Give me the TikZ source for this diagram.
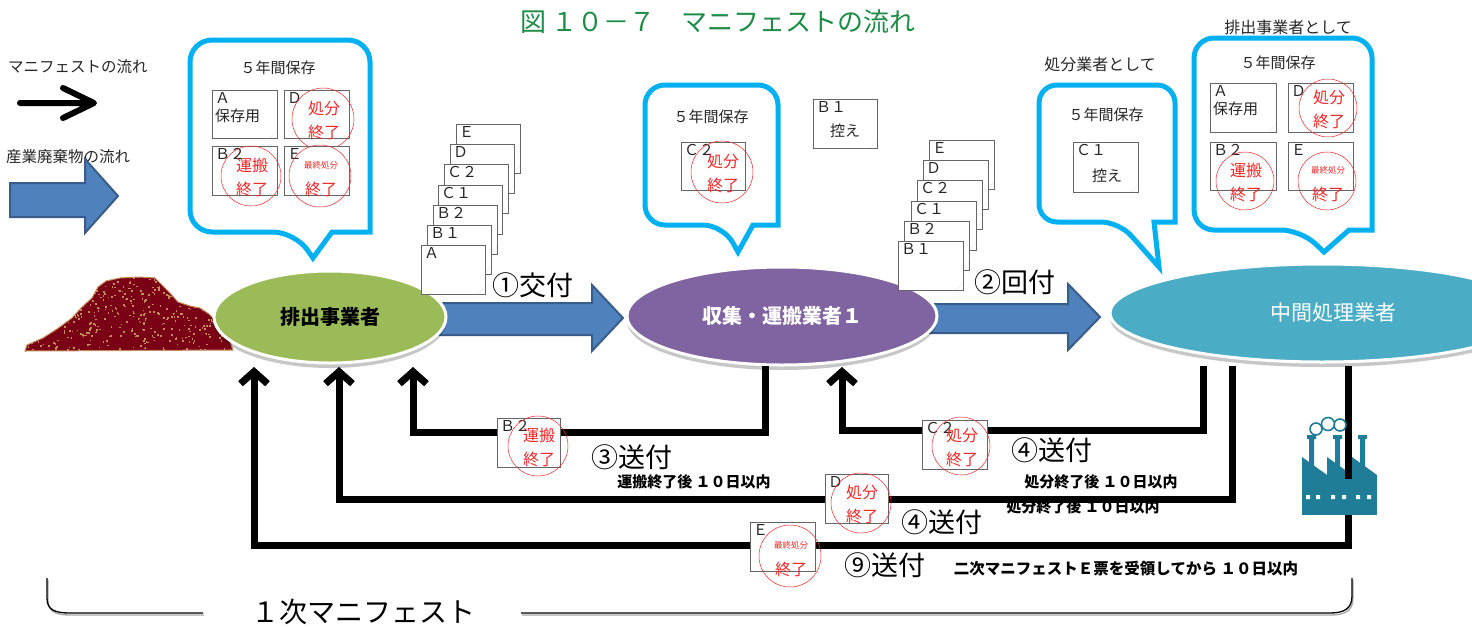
\documentclass[tikz,border=0pt]{standalone}
\usepackage{fontspec}
\setmainfont{Noto Sans CJK JP}
\usetikzlibrary{arrows.meta,shapes.geometric,shadows}

\definecolor{ttlgreen}{RGB}{30,140,70}
\definecolor{callblue}{RGB}{0,176,240}
\definecolor{blockblue}{RGB}{79,129,189}
\definecolor{blockedge}{RGB}{56,93,138}
\definecolor{emitgreen}{RGB}{155,187,89}
\definecolor{collpurple}{RGB}{128,100,162}
\definecolor{midteal}{RGB}{75,172,198}
\definecolor{factoryc}{RGB}{31,125,152}
\definecolor{heapred}{RGB}{122,0,22}
\definecolor{speck}{RGB}{196,140,90}
\definecolor{stampred}{RGB}{240,40,40}

\newcommand\fs[1]{\fontsize{#1}{#1}\selectfont}
% sticky note: [options]{name}{x}{y}{label}, (x,y) = top-left corner
\newcommand\memonote[5][]{%
  \node[memo,#1] (#2) at (#3,#4) {};
  \node[memolbl] (#2-l) at ([shift={(2pt,-1pt)}]#2.north west) {#5};}
% red completion stamp: {name}{cx}{cy}{radius}{upper text}
\newcommand\stampmark[5]{%
  \draw[stamp] (#2,#3) circle (#4pt);
  \node[stamptxt] (#1-a) at (#2+1,#3-11) {#5};
  \node[stamptxt] (#1-b) at (#2+1,#3+13) {終了};}

\begin{document}
\begin{tikzpicture}[x=1pt,y=-1pt,
  callout/.style={draw=callblue,line width=5pt,fill=white},
  memo/.style={draw=black!60,fill=white,line width=0.6pt,inner sep=0pt,
    anchor=north west,minimum width=65pt,minimum height=49pt,
    path picture={\fill[black!30]
      ([xshift=-8pt]path picture bounding box.south east) --
      ([yshift=8pt]path picture bounding box.south east) --
      ([shift={(-6pt,2pt)}]path picture bounding box.south east) -- cycle;}},
  memolbl/.style={anchor=north west,inner sep=1pt,font=\fs{15},align=left,text=black!85},
  plain/.style={inner sep=0pt,font=\fs{15},text=black!85},
  stamp/.style={draw=stampred,line width=0.5pt},
  stamptxt/.style={text=stampred,font=\fs{16},inner sep=0pt},
  ret/.style={line width=7pt,draw=black,-{Straight Barb[length=12pt,width=27pt]}},
  bigarrow/.style={fill=blockblue,draw=blockedge,line width=2pt},
  ell/.style={ellipse,draw=white,line width=3pt,inner sep=0pt,
    drop shadow={shadow xshift=0pt,shadow yshift=-5pt,opacity=0.22,fill=black}},
  big/.style={font=\fs{27},inner sep=0pt},
  small/.style={font=\fs{15}\bfseries,inner sep=0pt}]

\useasboundingbox (0,0) rectangle (1472,627);
\fill[white] (0,0) rectangle (1472,627);

% title
\node[font=\fs{26},text=ttlgreen,inner sep=0pt] (title) at (718,22) {図 １０－７　マニフェストの流れ};

% legend
\node[plain,anchor=west,font=\fs{15.5}] (lg1) at (8,67) {マニフェストの流れ};
\draw[line width=6pt,line cap=round,line join=round] (20,103) -- (93,103) (63,88) -- (94,103) -- (63,118);
\node[plain,anchor=west,font=\fs{15.5}] (lg2) at (6,157) {産業廃棄物の流れ};
\draw[bigarrow] (10,183) -- (85,183) -- (85,159) -- (118,196) -- (85,233) -- (85,217) -- (10,217) -- cycle;

% waste heap
\def\heapshape{(25,351) -- (27,345) -- (43,338) -- (57,329) -- (72,318) -- (82,307) -- (92,298)
  -- (98,287) -- (106,281) -- (120,278) -- (140,277) -- (155,278) -- (162,285) -- (170,293)
  -- (178,302) -- (190,306) -- (200,308) -- (209,314) -- (218,323) -- (227,333) -- (233,350) -- cycle}
\fill[heapred] \heapshape;
\begin{scope}
  \clip \heapshape;
  \pgfmathsetseed{11}
  \foreach \k in {1,...,520}{
    \pgfmathsetmacro\hx{25+210*rnd}
    \pgfmathsetmacro\hy{275+78*rnd}
    \fill[speck] (\hx,\hy) rectangle ++(1.6,1.6);}
\end{scope}
\draw[speck,line width=1pt] \heapshape;

% block arrows for the waste itself
\draw[bigarrow] (440,303) -- (592,303) -- (592,285) -- (623,318) -- (592,351) -- (592,335) -- (440,335) -- cycle;
\draw[bigarrow] (925,304) -- (1068,304) -- (1068,284) -- (1100,317) -- (1068,350) -- (1068,333) -- (925,333) -- cycle;

% parties
\node[ell,fill=emitgreen,minimum width=232pt,minimum height=92pt,font=\fs{20}\bfseries] (gen) at (330,317) {排出事業者};
\node[ell,fill=collpurple,minimum width=310pt,minimum height=98pt,text=white,font=\fs{20}\bfseries] (col) at (782,316) {収集・運搬業者１};
\node[ell,fill=midteal,minimum width=424pt,minimum height=98pt] (mid) at (1322,313) {};
\node[inner sep=0pt,text=white,font=\fs{21}] (midtxt) at (1333,313) {中間処理業者};

% labels of the flow steps
\node[big] (l1) at (533,285) {①交付};
\node[big] (l2) at (1015,282) {②回付};

% text partly covered by the return line
\node[small] (t4b) at (1083,507) {処分終了後 １０日以内};

% return paths of the manifest copies
\coordinate (r3s) at (765,366);   \coordinate (r3e) at (413,367);
\coordinate (r4s) at (1203,366);  \coordinate (r4e) at (842,367);
\coordinate (r5s) at (1232,366);  \coordinate (r5e) at (339,367);
\coordinate (r9s) at (1348,366);  \coordinate (r9e) at (254,367);
\draw[ret] (r3s) -- ++(0,66) -| (r3e);
\draw[ret] (r4s) -- ++(0,64) -| (r4e);
\draw[ret] (r5s) -- ++(0,133) -| (r5e);
\draw[ret] (r9s) -- ++(0,179) -| (r9e);

% factory icon
\fill[factoryc] (1309,437) rectangle (1314,470) (1307,435) rectangle (1316,439)
  (1335,437) rectangle (1340,470) (1333,435) rectangle (1342,439)
  (1360,437) rectangle (1365,470) (1358,435) rectangle (1367,439);
\draw[factoryc,line width=1.6pt,fill=white] (1316,429) circle (6pt) (1328,424) circle (6.5pt) (1340,425) circle (6pt);
\fill[factoryc] (1302,480) -- (1302,457) -- (1327,475) -- (1327,457) -- (1352,475) -- (1352,457) -- (1377,475) -- (1377,480) -- cycle;
\draw[line width=7pt] (1348,455) -- (1348,481);
\fill[factoryc] (1302,479) rectangle (1377,515);
\fill[white] (1306,495) rectangle (1310,499) (1316,495) rectangle (1320,499)
  (1331,495) rectangle (1335,499) (1342,495) rectangle (1346,499)
  (1356,495) rectangle (1360,499) (1367,495) rectangle (1371,499);

% copies travelling back
\memonote[minimum width=63pt]{bB2}{497}{418}{Ｂ２}
\stampmark{bB2s}{538}{446}{30}{運搬}
\memonote{bC2}{922}{420}{Ｃ２}
\stampmark{bC2s}{961}{446}{29}{処分}
\memonote[minimum width=63pt]{bD}{825}{474}{Ｄ}
\stampmark{bDs}{861}{503}{30}{処分}
\memonote{bE}{750}{522}{Ｅ}
\stampmark{bEs}{790}{556}{31}{{\fs{8.5}最終処分}}

\node[big] (l3) at (632,457) {③送付};
\node[big] (l4a) at (1052,450) {④送付};
\node[big] (l4b) at (942,522) {④送付};
\node[big] (l9) at (885,565) {⑨送付};
\node[small] (t3) at (694,482) {運搬終了後 １０日以内};
\node[small] (t4a) at (1101,482) {処分終了後 １０日以内};
\node[small,font=\fs{15.5}\bfseries] (t9) at (1126,569) {二次マニフェストＥ票を受領してから １０日以内};

% stack handed over with the waste
\memonote[minimum width=64pt]{sE}{456}{124}{Ｅ}
\memonote[minimum width=64pt]{sD}{450}{144}{Ｄ}
\memonote[minimum width=64pt]{sC2}{444}{164}{Ｃ２}
\memonote[minimum width=64pt]{sC1}{438}{185}{Ｃ１}
\memonote[minimum width=64pt]{sB2}{433}{205}{Ｂ２}
\memonote[minimum width=64pt]{sB1}{427}{225}{Ｂ１}
\memonote[minimum width=64pt]{sA}{421}{245}{Ａ}

% stack passed on to the processor
\memonote{tE}{929}{140}{Ｅ}
\memonote{tD}{923}{160}{Ｄ}
\memonote{tC2}{917}{180}{Ｃ２}
\memonote{tC1}{911}{201}{Ｃ１}
\memonote{tB2}{904}{221}{Ｂ２}
\memonote{tB1}{898}{241}{Ｂ１}

% collector's own copy
\memonote[minimum width=64pt]{kB1}{813}{99}{Ｂ１}
\node[plain] (kB1t) at (845,131) {控え};

% storage balloons
\draw[callout] (295,232) -- (313,258) -- (332,232) -- (370,232) [rounded corners=22pt] -- (370,40) -- (190,40) -- (190,232) -- cycle;
\node[plain] (keepL) at (278,68) {５年間保存};
\memonote[minimum height=48pt]{LA}{212}{90}{Ａ\\[3pt]保存用}
\memonote[minimum height=48pt]{LD}{284}{90}{Ｄ}
\stampmark{LDs}{323}{119}{31}{処分}
\memonote{LB}{212}{146}{Ｂ２}
\stampmark{LBs}{251}{176}{30}{運搬}
\memonote{LE}{284}{146}{Ｅ}
\stampmark{LEs}{320}{176}{31}{{\fs{8.5}最終処分}}

\draw[callout] (723,225) -- (738,252) -- (753,225) -- (778,225) [rounded corners=20pt] -- (778,85) -- (645,85) -- (645,225) -- cycle;
\node[plain] (keepM) at (711,117) {５年間保存};
\memonote[minimum width=64pt,minimum height=48pt]{MC2}{681}{142}{Ｃ２}
\stampmark{MC2s}{722}{172}{31}{処分}

\node[plain,font=\fs{16}] (asproc) at (1100,64) {処分業者として};
\draw[callout] (1119,222) -- (1159,267) -- (1154,222) -- (1175,222) [rounded corners=18pt] -- (1175,85) -- (1039,85) -- (1039,222) -- cycle;
\node[plain] (keepS) at (1106,115) {５年間保存};
\memonote[minimum height=50pt]{SC1}{1073}{142}{Ｃ１}
\node[plain] (SC1t) at (1107,176) {控え};

\node[plain,font=\fs{16}] (asgen) at (1288,27) {排出事業者として};
\draw[callout] (1301,230) -- (1324,252) -- (1349,230) -- (1372,230) [rounded corners=20pt] -- (1372,38) -- (1194,38) -- (1194,230) -- cycle;
\node[plain] (keepR) at (1278,63) {５年間保存};
\memonote[minimum width=66pt]{RA}{1210}{83}{Ａ\\[3pt]保存用}
\memonote{RD}{1288}{83}{Ｄ}
\stampmark{RDs}{1328}{108}{29}{処分}
\memonote[minimum width=66pt,minimum height=48pt]{RB}{1210}{142}{Ｂ２}
\stampmark{RBs}{1245}{181}{29}{運搬}
\memonote[minimum height=48pt]{RE}{1288}{142}{Ｅ}
\stampmark{REs}{1327}{181}{29}{{\fs{8.5}最終処分}}

% bracket of the primary manifest
\begin{scope}[line width=1.3pt]
  \draw[black!35,shift={(1,2)}] (47,578) -- (47,598) .. controls (47,610) and (55,613) .. (70,613) -- (203,613)
    (521,613) -- (1330,613) .. controls (1345,613) and (1352,608) .. (1352,596) -- (1352,578);
  \draw (47,578) -- (47,598) .. controls (47,610) and (55,613) .. (70,613) -- (203,613)
    (521,613) -- (1330,613) .. controls (1345,613) and (1352,608) .. (1352,596) -- (1352,578);
\end{scope}
\node[inner sep=0pt,font=\fs{28}] (onemf) at (363,612) {１次マニフェスト};

\end{tikzpicture}
\end{document}
